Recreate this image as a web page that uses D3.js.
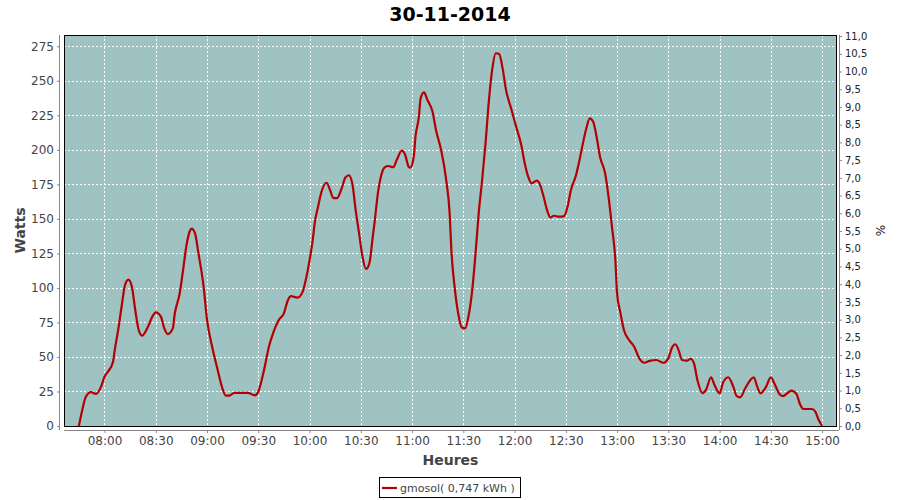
<!DOCTYPE html>
<html><head><meta charset="utf-8">
<script src="https://cdn.jsdelivr.net/npm/d3@7/dist/d3.min.js"></script>
<style>
body{margin:0;background:#fff;}
svg{display:block;font-family:"DejaVu Sans",sans-serif;}
</style></head>
<body><svg id="c" width="900" height="500"></svg>
<script>
const title = "30-11-2014";
const seriesName = "gmosol( 0,747 kWh )";
const times = ["07:45","07:47","07:49","07:52","07:55","07:58","08:00","08:02","08:05","08:06","08:08","08:10","08:12","08:14","08:16","08:18","08:20","08:22","08:25","08:28","08:30","08:33","08:35","08:37","08:40","08:41","08:44","08:46","08:48","08:50","08:51","08:53","08:55","08:58","09:00","09:03","09:06","09:09","09:11","09:13","09:16","09:24","09:28","09:30","09:32","09:34","09:36","09:39","09:42","09:45","09:47","09:49","09:53","09:56","09:58","10:00","10:02","10:03","10:05","10:07","10:10","10:12","10:14","10:16","10:19","10:21","10:23","10:25","10:27","10:29","10:31","10:33","10:35","10:37","10:38","10:40","10:42","10:44","10:46","10:49","10:51","10:54","10:56","10:58","10:59","11:01","11:02","11:04","11:05","11:07","11:09","11:12","11:14","11:17","11:20","11:22","11:23","11:25","11:27","11:29","11:31","11:33","11:35","11:37","11:39","11:41","11:43","11:45","11:47","11:49","11:51","11:53","11:55","11:58","12:01","12:04","12:06","12:08","12:10","12:13","12:15","12:17","12:19","12:21","12:23","12:26","12:29","12:31","12:33","12:36","12:38","12:40","12:42","12:44","12:46","12:48","12:50","12:53","12:55","12:57","12:59","13:00","13:02","13:04","13:07","13:10","13:13","13:16","13:19","13:23","13:27","13:30","13:32","13:34","13:36","13:38","13:41","13:43","13:45","13:47","13:50","13:52","13:55","13:57","14:00","14:02","14:05","14:08","14:10","14:12","14:15","14:18","14:20","14:22","14:24","14:27","14:30","14:32","14:35","14:37","14:40","14:42","14:45","14:47","14:49","14:54","14:56","14:58","15:00"];
const watts = [0,11.6,21,24.6,23.2,28.5,35.7,39.3,46.6,55,69.5,86.4,102,106,101,84,69.5,65.4,70.7,79.2,82.3,79.2,70.7,66.6,70.7,80.4,96,113,131,141.4,143,139.5,125,101,77,57.4,41.8,27.3,22,22,24,24,22.2,24.8,33.3,44.2,56.3,68.3,76.8,81.6,90,94,93,97.3,107,120,136,146.8,158.8,169.7,176.2,170.9,165,165,172.9,180,181.6,175.8,156.4,139.5,122.6,113.7,117.8,137,146.8,168.5,181.8,187.4,188.3,187.4,192.6,199.4,196.3,187.8,187.1,195,209.5,224,237.3,241.7,236.1,227.6,214.4,200,178,154,127.5,99.7,81.6,71.5,70.7,79.2,96,122.6,154,178,204.7,236,259,270,269.4,259,243.3,230,216.5,203,190,180.5,175.8,177.7,174.5,166,156.4,151,152.3,151.6,152,158.8,171,181.8,192.6,204.7,215.6,222.8,220.4,209.5,195,183,166,144.3,120,96,81.6,69.5,62.3,57.4,49,45.8,47.2,47.8,45.8,49,56.3,59.2,55,47.8,47.3,48.7,45.4,33.3,23.7,26.1,35.3,29.7,23.7,31.4,35.3,28.5,21.7,20.8,27.3,33.3,35.3,28.5,23.7,28,35.3,30.9,23.2,21.7,24.1,25.6,23.2,15.9,12.3,12.3,10.4,4.3,0];
const leftTicks = [0,25,50,75,100,125,150,175,200,225,250,275];
const rightTicks = [0,0.5,1,1.5,2,2.5,3,3.5,4,4.5,5,5.5,6,6.5,7,7.5,8,8.5,9,9.5,10,10.5,11];
const leftMax = 283.2, rightMax = 11.03;

const parse = d3.timeParse("%H:%M");
const data = times.map((t,i)=>({t:parse(t), v:watts[i]}));

const svg = d3.select("#c");
const L=64, R=837, T=35, B=426;
const ext = d3.extent(data, d=>d.t);
const span = ext[1]-ext[0];
const x = d3.scaleTime().domain([new Date(+ext[0]-span*0.02), new Date(+ext[1]+span*0.02)]).range([L,R]);
const y = d3.scaleLinear().domain([0,leftMax]).range([B,T]);
const y2 = d3.scaleLinear().domain([0,rightMax]).range([B,T]);

svg.append("rect").attr("x",L).attr("y",T).attr("width",R-L).attr("height",B-T).attr("fill","#9fc3c2");

const xt = x.ticks(d3.timeMinute.every(30));
const g = svg.append("g");
g.selectAll(".vg").data(xt).join("line")
 .attr("x1",d=>Math.round(x(d))+0.5).attr("x2",d=>Math.round(x(d))+0.5).attr("y1",T).attr("y2",B)
 .attr("stroke","#fff").attr("stroke-dasharray","2,2");
g.selectAll(".hg").data(leftTicks).join("line")
 .attr("y1",d=>Math.round(y(d))+0.5).attr("y2",d=>Math.round(y(d))+0.5).attr("x1",L).attr("x2",R)
 .attr("stroke","#fff").attr("stroke-dasharray","2,2");

const line = d3.line().x(d=>x(d.t)).y(d=>y(d.v)).curve(d3.curveMonotoneX);
svg.append("path").datum(data).attr("d",line).attr("fill","none").attr("stroke","#b40000").attr("stroke-width",2.2);

svg.append("rect").attr("x",L+0.5).attr("y",T+0.5).attr("width",R-L-1).attr("height",B-T).attr("fill","none").attr("stroke","#000");

// axes
const ax = d3.axisBottom(x).tickValues(xt).tickFormat(d3.timeFormat("%H:%M")).tickSize(3).tickPadding(3);
const gx = svg.append("g").attr("transform",`translate(0,${B+4})`).call(ax);
gx.select(".domain").attr("stroke","#888").attr("d",`M${L},0.5H${R+2}`);
gx.selectAll(".tick line").attr("stroke","#888");
gx.selectAll("text").attr("fill","#444").attr("font-size",12).attr("font-family","DejaVu Sans");

const ay = d3.axisLeft(y).tickValues(leftTicks).tickSize(3).tickPadding(3);
const gy = svg.append("g").attr("transform",`translate(${L-4},0)`).call(ay);
gy.select(".domain").attr("stroke","#888").attr("d",`M-0.5,${T}V${B+4}`);
gy.selectAll(".tick line").attr("stroke","#888");
gy.selectAll("text").attr("fill","#444").attr("font-size",12).attr("font-family","DejaVu Sans");

const fr = d3.formatLocale({decimal:",",thousands:".",grouping:[3],currency:["","€"]}).format(".1f");
const ay2 = d3.axisRight(y2).tickValues(rightTicks).tickFormat(fr).tickSize(3).tickPadding(3);
const gy2 = svg.append("g").attr("transform",`translate(${R+2},0)`).call(ay2);
gy2.select(".domain").attr("stroke","#888").attr("d",`M0.5,${T}V${B+4}`);
gy2.selectAll(".tick line").attr("stroke","#888");
gy2.selectAll("text").attr("fill","#222").attr("font-size",10).attr("font-family","DejaVu Sans");

// titles
svg.append("text").attr("x",450).attr("y",21).attr("text-anchor","middle").attr("font-size",19).attr("font-weight","bold").attr("fill","#000").text(title);
svg.append("text").attr("x",(L+R)/2).attr("y",465).attr("text-anchor","middle").attr("font-size",14).attr("font-weight","bold").attr("fill","#444").text("Heures");
svg.append("text").attr("transform",`translate(25,${(T+B)/2}) rotate(-90)`).attr("text-anchor","middle").attr("font-size",14).attr("font-weight","bold").attr("fill","#444").text("Watts");
svg.append("text").attr("transform",`translate(885,${(T+B)/2}) rotate(-90)`).attr("text-anchor","middle").attr("font-size",12).attr("fill","#222").text("%");

// legend
const lg = svg.append("g");
lg.append("rect").attr("x",379.5).attr("y",477.5).attr("width",141).attr("height",20).attr("fill","#fff").attr("stroke","#000");
lg.append("line").attr("x1",382).attr("x2",397).attr("y1",488).attr("y2",488).attr("stroke","#b40000").attr("stroke-width",2.2);
lg.append("text").attr("x",400).attr("y",492).attr("font-size",11).attr("fill","#444").text(seriesName);
</script></body></html>
